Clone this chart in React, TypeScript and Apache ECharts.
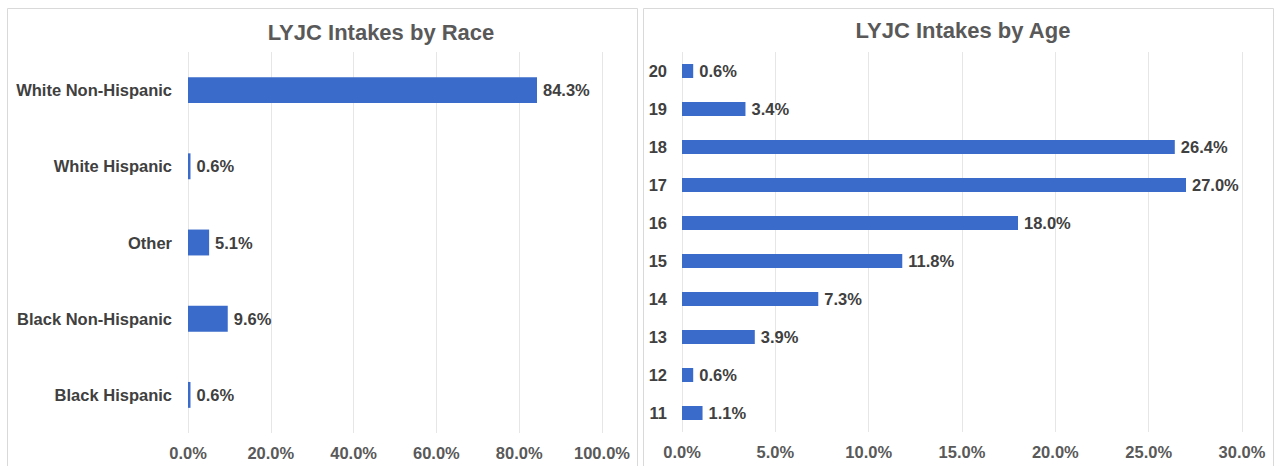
import React, { useEffect, useRef } from "react";
import * as echarts from "echarts";

const raceCategories = ["Black Hispanic", "Black Non-Hispanic", "Other", "White Hispanic", "White Non-Hispanic"];
const raceValues = [0.6, 9.6, 5.1, 0.6, 84.3];

const ageCategories = ["11", "12", "13", "14", "15", "16", "17", "18", "19", "20"];
const ageValues = [1.1, 0.6, 3.9, 7.3, 11.8, 18.0, 27.0, 26.4, 3.4, 0.6];

const raceTitle = "LYJC Intakes by Race";
const ageTitle = "LYJC Intakes by Age";

const FONT = "'Liberation Sans', Arial, sans-serif";
const BLUE = "#3a6bcb";
const pct = (v: number) => v.toFixed(1) + "%";

export default function App() {
  const ref = useRef<HTMLDivElement>(null);
  useEffect(() => {
    document.body.style.margin = "0";
    const chart = echarts.init(ref.current!, null, { renderer: "svg" });
    const axisLabel = { fontFamily: FONT, fontSize: 16.5, fontWeight: "bold" as const, color: "#595959" };
    const labelCfg = {
      show: true,
      position: "right" as const,
      distance: 6,
      formatter: (p: any) => pct(p.value),
      fontFamily: FONT,
      fontSize: 16.5,
      fontWeight: "bold" as const,
      color: "#404040",
    };
    chart.setOption({
      animation: false,
      backgroundColor: "#ffffff",
      graphic: [
        { type: "rect", shape: { x: 7.5, y: 8.5, width: 630, height: 470 }, style: { fill: "#fff", stroke: "#d9d9d9", lineWidth: 1 }, z: -10 },
        { type: "rect", shape: { x: 643.5, y: 8.5, width: 630, height: 470 }, style: { fill: "#fff", stroke: "#d9d9d9", lineWidth: 1 }, z: -10 },
      ],
      title: [
        { text: raceTitle, left: 376, top: 16, textAlign: "center", textStyle: { fontFamily: FONT, fontSize: 22, fontWeight: "bold", color: "#595959" } },
        { text: ageTitle, left: 958, top: 14, textAlign: "center", textStyle: { fontFamily: FONT, fontSize: 22, fontWeight: "bold", color: "#595959" } },
      ],
      grid: [
        { left: 188, right: 677, top: 52, bottom: 33 },
        { left: 682, right: 37, top: 52, bottom: 34 },
      ],
      xAxis: [
        {
          gridIndex: 0, type: "value", min: 0, max: 100, interval: 20,
          axisLine: { show: false }, axisTick: { show: false },
          splitLine: { show: true, lineStyle: { color: "#e6e6e6" } },
          axisLabel: { ...axisLabel, margin: 11, formatter: (v: number) => pct(v) },
        },
        {
          gridIndex: 1, type: "value", min: 0, max: 30, interval: 5,
          axisLine: { show: false }, axisTick: { show: false },
          splitLine: { show: true, lineStyle: { color: "#e6e6e6" } },
          axisLabel: { ...axisLabel, margin: 11, formatter: (v: number) => pct(v) },
        },
      ],
      yAxis: [
        {
          gridIndex: 0, type: "category", data: raceCategories,
          axisLine: { show: false }, axisTick: { show: false },
          axisLabel: { ...axisLabel, margin: 16, color: "#404040" },
        },
        {
          gridIndex: 1, type: "category", data: ageCategories,
          axisLine: { show: false }, axisTick: { show: false },
          axisLabel: { ...axisLabel, margin: 15, color: "#404040" },
        },
      ],
      series: [
        {
          type: "bar", xAxisIndex: 0, yAxisIndex: 0, data: raceValues,
          barWidth: "34%", itemStyle: { color: BLUE }, label: labelCfg,
        },
        {
          type: "bar", xAxisIndex: 1, yAxisIndex: 1, data: ageValues,
          barWidth: "37%", itemStyle: { color: BLUE }, label: labelCfg,
        },
      ],
    });
    return () => chart.dispose();
  }, []);
  return <div ref={ref} style={{ width: 1279, height: 466 }} />;
}
